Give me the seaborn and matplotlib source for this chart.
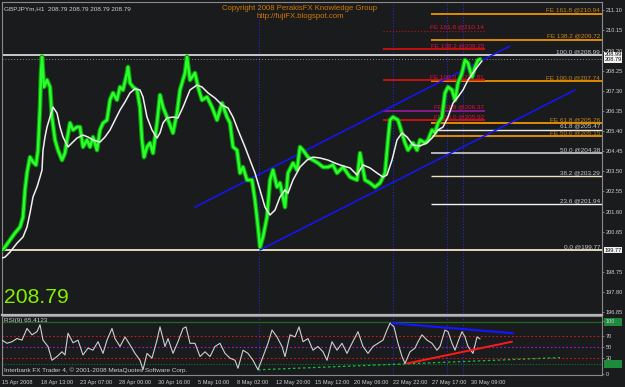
import numpy as np
import pandas as pd
import matplotlib
matplotlib.use("Agg")
import matplotlib.pyplot as plt
import matplotlib.transforms as mtransforms
from matplotlib import font_manager
from matplotlib.patches import Rectangle
import seaborn as sns

# ---------------- data ----------------
price_pos = [2, 5, 10, 15, 20, 23, 25, 27, 30, 33, 36, 38, 40, 41, 42, 44, 47, 50, 52, 55,
             58, 62, 65, 67, 70, 73, 77, 80, 83, 87, 90, 93, 97, 100, 103, 107, 110, 113, 117, 120,
             123, 127, 128, 130, 133, 137, 140, 142, 144, 147, 150, 153, 157, 160, 163, 167, 173, 177, 180, 185,
             187, 190, 195, 198, 202, 207, 212, 217, 222, 227, 230, 233, 237, 240, 243, 247, 252, 255, 258, 260,
             263, 267, 270, 273, 277, 280, 285, 288, 293, 297, 300, 303, 308, 313, 318, 323, 328, 333, 337, 343,
             350, 357, 360, 365, 370, 375, 380, 385, 388, 390, 393, 398, 402, 405, 408, 413, 417, 420, 425, 428,
             432, 435, 438, 442, 445, 448, 452, 455, 458, 462, 465, 468, 472, 475, 478, 480]
price_close = [199.79, 199.93, 200.26, 200.59, 200.87, 201.34, 202.62, 203.42, 204.17, 203.94, 203.80, 204.50, 206.53, 208.14, 208.90, 207.48, 207.81, 207.48, 206.06, 204.98,
               204.50, 204.03, 204.36, 204.98, 205.78, 205.45, 205.59, 205.59, 204.65, 204.98, 204.65, 205.12, 204.50, 205.45, 205.78, 205.92, 206.87, 207.20, 206.87, 207.48,
               207.34, 208.14, 208.42, 207.67, 207.48, 207.34, 206.53, 204.98, 204.17, 204.65, 204.84, 204.36, 205.78, 207.10, 206.53, 206.06, 205.31, 206.25, 207.34, 208.14,
               208.90, 207.81, 208.14, 207.48, 206.86, 207.01, 206.53, 205.92, 206.72, 206.06, 205.78, 204.65, 204.50, 203.42, 203.70, 203.09, 203.09, 202.14, 200.87, 199.93,
               200.40, 201.34, 203.09, 203.56, 202.76, 202.95, 201.81, 203.42, 203.89, 203.56, 204.65, 204.50, 204.17, 204.03, 203.89, 203.70, 203.70, 203.80, 203.42, 203.70,
               203.23, 203.09, 204.36, 203.09, 202.95, 202.76, 202.95, 203.42, 204.98, 205.92, 206.06, 205.92, 205.31, 204.84, 204.50, 204.84, 204.50, 204.98, 204.84, 204.98,
               205.45, 205.31, 205.78, 206.06, 207.20, 207.48, 207.34, 206.86, 207.67, 208.14, 208.75, 208.61, 207.95, 208.42, 208.75, 208.79]

ma_pos = [2, 5, 10, 17, 23, 27, 30, 33, 37, 40, 42, 43, 45, 47, 50, 53, 57, 60, 63, 68,
          72, 77, 83, 88, 93, 100, 105, 110, 115, 120, 125, 130, 135, 140, 143, 147, 152, 157, 160, 163,
          167, 173, 178, 183, 190, 197, 202, 208, 215, 222, 228, 233, 238, 245, 250, 255, 260, 265, 270, 275,
          280, 285, 288, 293, 300, 307, 313, 320, 328, 335, 340, 350, 357, 363, 370, 377, 383, 387, 392, 397,
          402, 407, 413, 420, 427, 433, 438, 443, 448, 453, 458, 463, 468, 473, 478, 482]
ma_vals = [199.41, 199.45, 199.69, 200.11, 200.40, 200.87, 201.53, 202.29, 202.76, 203.23, 203.56, 204.50, 205.12, 205.59, 206.06, 206.53, 206.25, 205.59, 205.12, 204.65,
           204.84, 205.07, 205.21, 205.12, 204.98, 204.88, 205.12, 205.45, 205.92, 206.39, 206.77, 207.20, 207.39, 207.34, 207.01, 206.06, 205.45, 205.07, 205.31, 205.78,
           206.02, 206.06, 206.02, 206.53, 207.34, 207.57, 207.48, 207.20, 206.96, 206.63, 206.49, 206.06, 205.45, 204.65, 204.03, 203.42, 202.62, 201.81, 201.44, 201.67,
           202.29, 202.62, 202.47, 203.09, 203.70, 204.03, 204.17, 204.13, 204.03, 203.89, 203.80, 203.66, 203.33, 203.80, 203.66, 203.42, 203.23, 203.33, 204.03, 204.98,
           205.31, 205.12, 204.74, 204.70, 204.84, 205.12, 205.45, 205.59, 206.06, 206.72, 207.01, 207.34, 207.81, 208.14, 208.47, 208.71]

rsi_pos = [2, 7, 12, 17, 22, 27, 32, 37, 40, 43, 48, 52, 57, 62, 65, 68, 73, 78, 83, 88,
           93, 98, 103, 107, 112, 115, 120, 125, 130, 135, 140, 143, 147, 152, 157, 160, 165, 168, 173, 178,
           183, 186, 190, 195, 200, 205, 210, 215, 220, 225, 230, 235, 238, 243, 248, 253, 258, 263, 268, 272,
           277, 282, 285, 290, 295, 299, 303, 308, 313, 318, 323, 327, 332, 337, 342, 347, 352, 358, 363, 368,
           373, 378, 383, 387, 390, 394, 398, 402, 405, 410, 415, 418, 422, 427, 432, 437, 440, 445, 448, 452,
           455, 458, 462, 465, 468, 473, 477, 480]
rsi_vals = [63, 57, 60, 66, 63, 85, 73, 79, 92, 63, 51, 25, 32, 41, 35, 76, 58, 63, 35, 48,
            44, 60, 38, 63, 85, 66, 51, 69, 54, 38, 25, 7, 38, 29, 63, 88, 51, 66, 38, 60,
            85, 88, 57, 57, 32, 41, 32, 51, 57, 38, 29, 25, 10, 44, 38, 25, 7, 32, 57, 82,
            69, 51, 32, 73, 69, 88, 60, 66, 44, 51, 41, 25, 60, 44, 57, 38, 57, 79, 51, 38,
            51, 57, 63, 82, 95, 88, 57, 32, 19, 41, 48, 60, 73, 63, 57, 44, 51, 82, 79, 57,
            44, 60, 79, 69, 51, 38, 69, 65.41]

time_tick_pos = [2, 41, 80, 119, 158, 198, 237, 276, 315, 354, 393, 432, 471]
time_tick_labels = ["15 Apr 2008", "18 Apr 13:00", "23 Apr 07:00", "28 Apr 00:00", "30 Apr 16:00",
                    "5 May 10:00", "8 May 02:00", "12 May 20:00", "15 May 12:00", "20 May 06:00",
                    "22 May 22:00", "27 May 17:00", "30 May 09:00"]

price_ticks = [211.10, 210.15, 209.20, 208.25, 207.30, 206.35, 205.40, 204.45, 203.50,
               202.55, 201.60, 200.65, 198.75, 197.80, 196.85]
rsi_ticks = [100, 70, 50, 30, 0]

fib_ret_levels = [100.0, 61.8, 50.0, 38.2, 23.6, 0.0]
fib_ret_prices = [208.99, 205.47, 204.38, 203.29, 201.94, 199.77]
fe_a_levels = [161.8, 138.2, 100.0, 61.8, 50.0]
fe_a_prices = [210.94, 209.72, 207.74, 205.76, 205.15]
fe_b_levels = [161.8, 138.2, 100.0, 61.8, 50.0]
fe_b_prices = [210.14, 209.25, 207.81, 206.37, 205.92]

channel_upper_pos = [195, 510]
channel_upper_price = [201.81, 209.41]
channel_lower_pos = [260, 575]
channel_lower_price = [199.79, 207.34]

vline_pos = [259, 393, 447, 463]

rsi_levels = [70, 50, 30]
rsi_blue_pos = [392, 513]
rsi_blue_vals = [95, 76]
rsi_red_pos = [407, 512]
rsi_red_vals = [19, 60]
rsi_green_pos = [258, 560]
rsi_green_vals = [7, 30]
rsi_upper_band = 97
rsi_lower_band = 18

last_price = 208.79
rsi_last = 65.4123

# ---------------- style ----------------
BG = "#1a1b1d"
sns.set_theme(style="dark", rc={"axes.facecolor": BG, "figure.facecolor": BG,
                                "axes.edgecolor": "#8a8a8a", "axes.grid": False})
plt.rcParams["font.family"] = ["Liberation Sans", "DejaVu Sans"]


def has_font(name):
    try:
        font_manager.findfont(font_manager.FontProperties(family=name), fallback_to_default=False)
        return True
    except Exception:
        return False


NARROW = ["Liberation Sans Narrow", "Liberation Sans"] if has_font("Liberation Sans Narrow") else ["Liberation Sans"]
narrow_ok = has_font("Liberation Sans Narrow")

fig = plt.figure(figsize=(6.25, 3.87), dpi=100)
W, H = 625.0, 387.0
ax = fig.add_axes([2 / W, 1 - 315 / H, 600 / W, 313 / H])
axr = fig.add_axes([2 / W, 1 - 375 / H, 600 / W, 59 / H])
for a in (ax, axr):
    a.set_facecolor(BG)
    a.set_xlim(2, 602)
    for s in a.spines.values():
        s.set_color("#8a8a8a")
        s.set_linewidth(0.8)
ax.spines["bottom"].set_color("#b8b8b8")
ax.spines["bottom"].set_linewidth(1.6)
ax.set_ylim(196.72, 211.49)
axr.set_ylim(-2.8, 108.5)

TXT = "#d0d0d0"
FS = 4.6
AX_FS = 4.6 if narrow_ok else 4.1

# vertical dotted lines
for a in (ax, axr):
    for v in vline_pos:
        a.axvline(v, color="#2a2aff", lw=0.7, ls=(0, (1, 2)), zorder=1)

# full width fib lines
ax.axhline(fib_ret_prices[0], color="#d8d8d8", lw=1.3, zorder=2)
ax.axhline(fib_ret_prices[-1], color="#f3e6cc", lw=1.3, zorder=2)
ax.axhline(last_price, color="#8c8c8c", lw=0.7, ls=(0, (1, 2)), zorder=2)

# partial retracement lines
ret_colors = {61.8: "#e8e8e8", 50.0: "#b4b4b4", 38.2: "#f0e2c4", 23.6: "#f4f4f4"}
for lvl, p in zip(fib_ret_levels, fib_ret_prices):
    if lvl in ret_colors:
        ax.hlines(p, 431, 602, color=ret_colors[lvl], lw=1.4 if lvl == 50.0 else 1.0, zorder=2)
    ax.annotate(f"{lvl:.1f} @{p:.2f}", xy=(600, p), xytext=(0, 0.6), textcoords="offset points",
                ha="right", va="bottom", fontsize=FS, color="#c8c8c8", zorder=4)

# FE set A (orange)
for lvl, p in zip(fe_a_levels, fe_a_prices):
    ax.hlines(p, 431, 602, color="#e08c00", lw=1.4, zorder=2)
    ax.annotate(f"FE {lvl:.1f} @{p:.2f}", xy=(600, p), xytext=(0, 0.6), textcoords="offset points",
                ha="right", va="bottom", fontsize=FS, color="#c8861c", zorder=4)

# FE set B (red)
for lvl, p in zip(fe_b_levels, fe_b_prices):
    if lvl == 161.8:
        ax.hlines(p, 383, 485, color="#b01010", lw=0.9, ls=(0, (1, 1.5)), zorder=2)
    elif lvl == 61.8:
        ax.hlines(p, 383, 485, color="#9a1a9a", lw=1.2, zorder=2)
    else:
        ax.hlines(p, 383, 485, color="#e01010", lw=1.2, zorder=2)
    ax.annotate(f"FE {lvl:.1f} @{p:.2f}", xy=(484, p), xytext=(0, 0.6), textcoords="offset points",
                ha="right", va="bottom", fontsize=FS, color="#e0103a", zorder=4)

# channel
sns.lineplot(x=channel_upper_pos, y=channel_upper_price, ax=ax, color="#1414ff", lw=1.1, zorder=3)
sns.lineplot(x=channel_lower_pos, y=channel_lower_price, ax=ax, color="#1414ff", lw=1.1, zorder=3)

# price
pdf = pd.DataFrame({"pos": price_pos, "close": price_close})
sns.lineplot(data=pdf, x="pos", y="close", ax=ax, color="#0c9a0c", lw=3.4, zorder=4, sort=False)
sns.lineplot(data=pdf, x="pos", y="close", ax=ax, color="#2bff2b", lw=1.8, zorder=5, sort=False)
mdf = pd.DataFrame({"pos": ma_pos, "ma": ma_vals})
sns.lineplot(data=mdf, x="pos", y="ma", ax=ax, color="#f0f0f0", lw=1.1, zorder=6, sort=False)

# price axis
ax.yaxis.tick_right()
ax.set_yticks(price_ticks)
ax.set_yticklabels([f"{t:.2f}" for t in price_ticks])
ax.tick_params(axis="y", colors="#8a8a8a", labelcolor=TXT, labelsize=AX_FS, length=1.5, pad=1, width=0.6)
for lab in ax.get_yticklabels():
    lab.set_fontfamily(NARROW)
ax.set_xticks([])
ax.set_xlabel("")
ax.set_ylabel("")

# price boxes
btr = mtransforms.blended_transform_factory(ax.transAxes, ax.transData)
ax.text(1.004, (208.99 + last_price) / 2, f"{208.99:.2f}\n{last_price:.2f}", transform=btr,
        ha="left", va="center", fontsize=AX_FS, color="#111111", zorder=10, clip_on=False,
        linespacing=0.95, family=NARROW,
        bbox=dict(boxstyle="square,pad=0.1", fc="#f2f2f2", ec="none"))
ax.text(1.004, 199.77, f"{199.77:.2f}", transform=btr,
        ha="left", va="center", fontsize=AX_FS, color="#111111", zorder=10, clip_on=False,
        family=NARROW, bbox=dict(boxstyle="square,pad=0.1", fc="#f2f2f2", ec="none"))

# texts main
ax.text(0.003, 0.985, "GBPJPYm,H1  208.79 208.79 208.79 208.79", transform=ax.transAxes,
        fontsize=FS, color=TXT, ha="left", va="top")
fig.text(300 / W, 1 - 8 / H, "Copyright 2008 PerakisFX Knowledge Group", ha="center", va="center",
         fontsize=5.6, color="#d27800")
fig.text(300 / W, 1 - 16 / H, "http://fujiFX.blogspot.com", ha="center", va="center",
         fontsize=5.6, color="#d27800")
ax.text(0.003, 0.025, f"{last_price:.2f}", transform=ax.transAxes, fontsize=15.2,
        color="#84f000", ha="left", va="bottom")

# ---------------- RSI panel ----------------
axr.axhline(rsi_upper_band, color="#1f6a1f", lw=0.9, zorder=1)
axr.axhline(rsi_lower_band, color="#127a32", lw=0.8, ls=(0, (1, 1.5)), zorder=1)
for lv in rsi_levels:
    axr.axhline(lv, color="#9a20c8" if lv == 50 else "#d01818", lw=0.8, ls=(0, (1.5, 2)), zorder=1)

rdf = pd.DataFrame({"pos": rsi_pos, "rsi": rsi_vals})
sns.lineplot(data=rdf, x="pos", y="rsi", ax=axr, color="#cfcfcf", lw=0.8, zorder=3, sort=False)
sns.lineplot(x=rsi_blue_pos, y=rsi_blue_vals, ax=axr, color="#1414ff", lw=1.6, zorder=4)
sns.lineplot(x=rsi_red_pos, y=rsi_red_vals, ax=axr, color="#ff1a1a", lw=1.4, zorder=4)
sns.lineplot(x=rsi_green_pos, y=rsi_green_vals, ax=axr, color="#14c040", lw=0.9, ls=(0, (2, 2)), zorder=2)

axr.yaxis.tick_right()
axr.set_yticks(rsi_ticks)
axr.set_yticklabels([str(t) for t in rsi_ticks])
axr.tick_params(axis="y", colors="#8a8a8a", labelcolor=TXT, labelsize=AX_FS, length=1.5, pad=1, width=0.6)
axr.set_xticks(time_tick_pos)
axr.set_xticklabels(time_tick_labels, ha="left")
axr.tick_params(axis="x", colors="#8a8a8a", labelcolor=TXT, labelsize=AX_FS, length=2, pad=1.5, width=0.6)
for lab in axr.get_xticklabels() + axr.get_yticklabels():
    lab.set_fontfamily(NARROW)
axr.set_xlabel("")
axr.set_ylabel("")

btr2 = mtransforms.blended_transform_factory(axr.transAxes, axr.transData)
for lv in (rsi_upper_band, rsi_lower_band):
    axr.add_patch(Rectangle((1.004, lv - 7), 0.03, 14, transform=btr2, fc="#1d8a3c", ec="none",
                            clip_on=False, zorder=0.5))

axr.text(0.003, 0.96, f"RSI(9) {rsi_last:.4f}", transform=axr.transAxes, fontsize=FS,
         color=TXT, ha="left", va="top", zorder=6)
axr.text(0.003, 0.04, "Interbank FX Trader 4, \u00a9 2001-2008 MetaQuotes Software Corp.",
         transform=axr.transAxes, fontsize=FS, color=TXT, ha="left", va="bottom", zorder=6)

fig.savefig("out.png", dpi=100, facecolor=BG)
